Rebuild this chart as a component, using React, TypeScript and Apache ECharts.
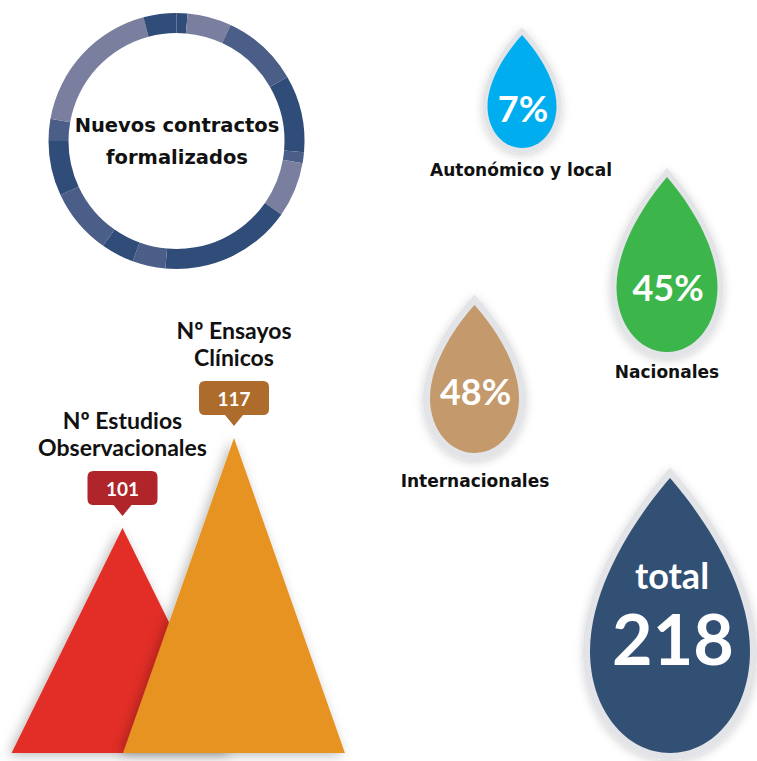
import React, { useEffect, useRef } from 'react';
import * as echarts from 'echarts';

// ---------- data ----------
const RING_TITLE = 'Nuevos contractos\nformalizados';
const RING_SEGMENT_ANGLES = [5, 20, 35, 35, 5, 25, 60, 15, 15, 30, 25, 10, 65, 15];
const RING_SEGMENT_SHADES = ['d', 'l', 'm', 'd', 'm', 'l', 'd', 'm', 'd', 'm', 'd', 'm', 'l', 'd'];

const STUDY_CATEGORIES = ['Nº Estudios\nObservacionales', 'Nº Ensayos\nClínicos'];
const STUDY_VALUES = [101, 117];

const SCOPE_LABELS = ['Autonómico y local', 'Nacionales', 'Internacionales'];
const SCOPE_SHARES = [7, 45, 48];
const TOTAL_LABEL = 'total';
const TOTAL_VALUE = 218;

// ---------- styles / layout ----------
const SHADE_COLORS: Record<string, string> = { d: '#304c78', m: '#4b5e87', l: '#7b7f9f' };
const TRI_COLORS = ['#e22e25', '#e69324'];
const CALLOUT_COLORS = ['#b0252a', '#ad6c2b'];
const SCOPE_COLORS = ['#00aeef', '#3cb54a', '#c49a6c'];
const TOTAL_COLOR = '#324f74';
const AXIS_MIN = 61;
const AXIS_MAX = 125;

const SCOPE_LAYOUT = [
  { cx: 522, top: 35, w: 69, h: 113, b: 5, valueY: 108, labelY: 170, labelX: 521 },
  { cx: 667, top: 177, w: 101, h: 175, b: 6, valueY: 287, labelY: 372, labelX: 667 },
  { cx: 474.5, top: 305, w: 89, h: 148, b: 7, valueY: 391, labelY: 481, labelX: 475 },
];
const TOTAL_LAYOUT = { cx: 670, top: 478, w: 160, h: 275, b: 7 };

const DROP_PATH =
  'M50,0 C68,12 100,38 100,63 C100,84 78,100 50,100 C22,100 0,84 0,63 C0,38 32,12 50,0 Z';
echarts.graphic.registerShape('drop', echarts.graphic.extendPath(DROP_PATH, {}));

const LABEL_FONT = 'bold 17px "DejaVu Sans"';
const NUM_FONT = 'bold 36px Lato';

function dropElements(l: { cx: number; top: number; w: number; h: number; b: number }, color: string) {
  const { cx, top, w, h, b } = l;
  return [
    {
      type: 'drop',
      x: cx - w / 2 - b,
      y: top - 1.5 * b,
      scaleX: (w + 2 * b) / 100,
      scaleY: (h + 2.5 * b) / 100,
      style: { fill: '#e3e4e7', shadowBlur: 10, shadowColor: 'rgba(0,0,0,0.18)', shadowOffsetY: 2 },
      silent: true,
    },
    {
      type: 'drop',
      x: cx - w / 2,
      y: top,
      scaleX: w / 100,
      scaleY: h / 100,
      style: { fill: color },
      silent: true,
    },
  ];
}

function textEl(text: string, x: number, y: number, font: string, fill: string) {
  return {
    type: 'text',
    x,
    y,
    silent: true,
    style: { text, font, fill, align: 'center', verticalAlign: 'middle', textAlign: 'center', textVerticalAlign: 'middle' },
  };
}

export default function App() {
  const ref = useRef<HTMLDivElement>(null);
  useEffect(() => {
    if (!ref.current) return;
    const chart = echarts.init(ref.current, null, { renderer: 'svg' });

    const graphics: any[] = [];
    graphics.push({
      type: 'text',
      x: 177,
      y: 141,
      silent: true,
      style: {
        text: RING_TITLE,
        font: 'bold 19.5px "DejaVu Sans"',
        fill: '#111',
        lineHeight: 32,
        align: 'center',
        verticalAlign: 'middle',
        textAlign: 'center',
        textVerticalAlign: 'middle',
      },
    });
    SCOPE_SHARES.forEach((v, i) => {
      const l = SCOPE_LAYOUT[i];
      graphics.push(...dropElements(l, SCOPE_COLORS[i]));
      graphics.push(textEl(v + '%', l.cx + 1, l.valueY, NUM_FONT, '#ffffff'));
      graphics.push(textEl(SCOPE_LABELS[i], l.labelX, l.labelY, LABEL_FONT, '#111111'));
    });
    graphics.push(...dropElements(TOTAL_LAYOUT, TOTAL_COLOR));
    graphics.push(textEl(TOTAL_LABEL, 672, 575, 'bold 36px Lato', '#ffffff'));
    graphics.push(textEl(String(TOTAL_VALUE), 673, 638, 'bold 70px Lato', '#ffffff'));

    const option: any = {
      animation: false,
      backgroundColor: '#ffffff',
      grid: { left: 66.75, width: 223, top: 393, height: 360 },
      xAxis: { type: 'category', data: STUDY_CATEGORIES, show: false },
      yAxis: { type: 'value', min: AXIS_MIN, max: AXIS_MAX, show: false },
      graphic: graphics,
      series: [
        {
          type: 'pie',
          center: [176.5, 141],
          radius: [108, 128],
          startAngle: 90,
          clockwise: true,
          silent: true,
          label: { show: false },
          labelLine: { show: false },
          emphasis: { disabled: true },
          itemStyle: { borderWidth: 0 },
          data: RING_SEGMENT_ANGLES.map((a, i) => ({
            value: a,
            itemStyle: { color: SHADE_COLORS[RING_SEGMENT_SHADES[i]] },
          })),
        },
        {
          type: 'custom',
          silent: true,
          clip: false,
          data: STUDY_VALUES.map((v, i) => [i, v]),
          renderItem: (params: any, api: any) => {
            const idx = api.value(0);
            const v = api.value(1);
            const apex = api.coord([idx, v]);
            const base = api.coord([idx, AXIS_MIN]);
            const half = api.size([1, 0])[0] * 0.995;
            const ax = apex[0];
            const ay = apex[1];
            const tipY = ay - 12;
            const bb = tipY - 11;
            const bt = bb - 34;
            const bl = ax - 35;
            const br = ax + 35;
            const r = 6;
            const callout = `M${bl + r},${bt} H${br - r} Q${br},${bt} ${br},${bt + r} V${bb - r} Q${br},${bb} ${br - r},${bb} H${ax + 9} L${ax},${tipY} L${ax - 9},${bb} H${bl + r} Q${bl},${bb} ${bl},${bb - r} V${bt + r} Q${bl},${bt} ${bl + r},${bt} Z`;
            const i = params.dataIndex;
            return {
              type: 'group',
              children: [
                {
                  type: 'polygon',
                  shape: { points: [[ax, ay], [ax + half, base[1]], [ax - half, base[1]]] },
                  style: {
                    fill: TRI_COLORS[i],
                    shadowBlur: 12,
                    shadowColor: 'rgba(0,0,0,0.28)',
                    shadowOffsetX: -3,
                    shadowOffsetY: 2,
                  },
                },
                {
                  type: 'path',
                  shape: { pathData: callout },
                  style: { fill: CALLOUT_COLORS[i] },
                },
                {
                  type: 'text',
                  x: ax,
                  y: (bt + bb) / 2,
                  style: {
                    text: String(v),
                    font: 'bold 19px Lato',
                    fill: '#ffffff',
                    align: 'center',
                    verticalAlign: 'middle',
                    textAlign: 'center',
                    textVerticalAlign: 'middle',
                  },
                },
                {
                  type: 'text',
                  x: ax,
                  y: ay - 68,
                  style: {
                    text: STUDY_CATEGORIES[idx],
                    font: 'bold 23px Lato',
                    fill: '#111111',
                    lineHeight: 27,
                    align: 'center',
                    verticalAlign: 'bottom',
                    textAlign: 'center',
                    textVerticalAlign: 'bottom',
                  },
                },
              ],
            };
          },
        },
      ],
    };
    chart.setOption(option);
    return () => chart.dispose();
  }, []);
  return <div ref={ref} style={{ position: 'fixed', left: 0, top: 0, width: 757, height: 761 }} />;
}
